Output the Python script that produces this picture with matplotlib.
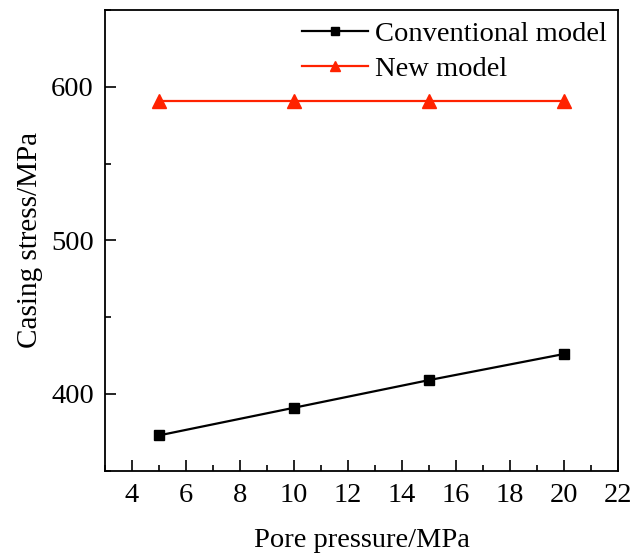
import matplotlib
matplotlib.use('Agg')
import matplotlib.pyplot as plt
from matplotlib.ticker import MultipleLocator

plt.rcParams['font.family'] = ['Liberation Serif', 'DejaVu Serif']
plt.rcParams['mathtext.fontset'] = 'stix'

# data
pore_pressure = [5, 10, 15, 20]
conventional = [373, 391, 409, 426]
new_model = [591, 591, 591, 591]

fig = plt.figure(figsize=(6.42, 5.56), dpi=100)
ax = fig.add_axes([0.1636, 0.1534, 0.799, 0.8286])

ax.plot(pore_pressure, conventional, color='black', lw=1.6, marker='s', ms=7.5,
        label='Conventional model')
ax.plot(pore_pressure, new_model, color='#ff2200', lw=1.6, marker='^', ms=10,
        label='New model')

ax.set_xlim(3, 22)
ax.set_ylim(350, 650)
ax.xaxis.set_major_locator(MultipleLocator(2))
ax.xaxis.set_minor_locator(MultipleLocator(1))
ax.yaxis.set_major_locator(MultipleLocator(100))
ax.yaxis.set_minor_locator(MultipleLocator(50))
ax.tick_params(which='both', direction='in', top=False, right=False, labelsize=20.5, width=1.2)
ax.tick_params(which='major', length=8)
ax.tick_params(which='minor', length=4)
ax.tick_params(axis='x', pad=9)
ax.tick_params(axis='y', pad=8)
for s in ax.spines.values():
    s.set_linewidth(1.3)

ax.set_xlabel('Pore pressure/MPa', fontsize=20.5, labelpad=14)
ax.set_ylabel('Casing stress/MPa', fontsize=21, labelpad=6)

ax.legend(loc='upper right', frameon=False, fontsize=20.5, handlelength=2.3,
          handletextpad=0.25, labelspacing=0.3, borderaxespad=0.0,
          markerscale=0.75)

fig.savefig('out.png', dpi=100)
